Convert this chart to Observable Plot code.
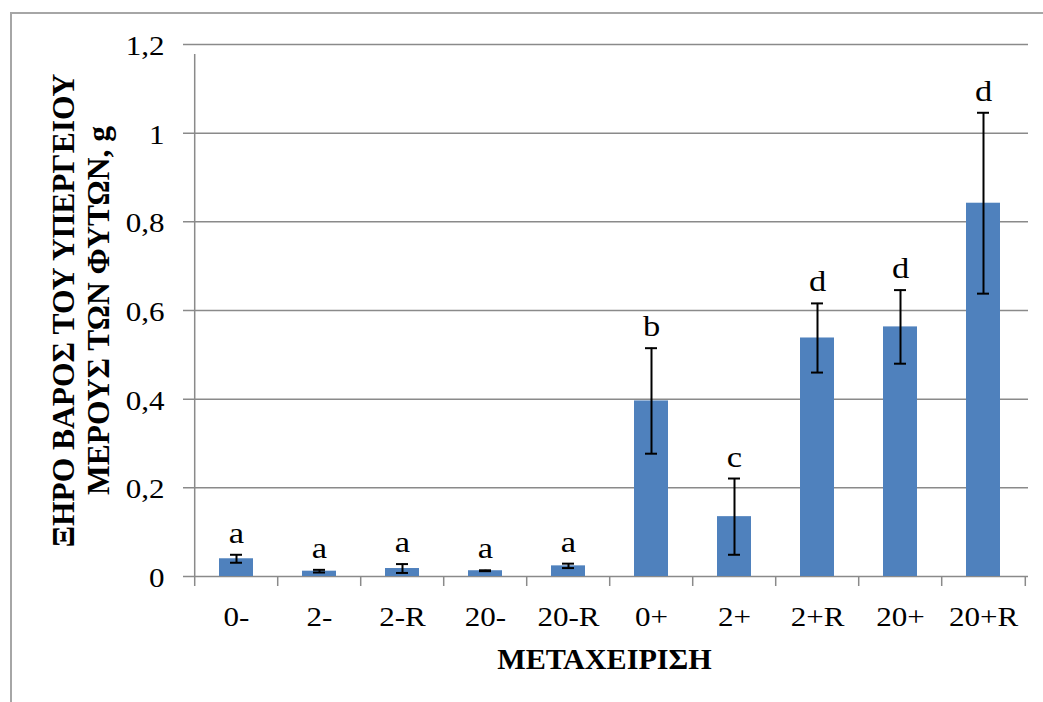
<!DOCTYPE html>
<html>
<head>
<meta charset="utf-8">
<script src="https://cdn.jsdelivr.net/npm/d3@7"></script>
<script src="https://cdn.jsdelivr.net/npm/@observablehq/plot@0.6"></script>
<style>
  html, body { margin: 0; padding: 0; background: #fff; overflow: hidden; }
  #chart svg { display: block; }
</style>
</head>
<body>
<div id="chart"></div>
<script>
// Treatments and the dry weight of the above-ground part of the plants (g), with error and group letter
const categories = ["0-", "2-", "2-R", "20-", "20-R", "0+", "2+", "2+R", "20+", "20+R"];
const means      = [0.040, 0.012, 0.018, 0.013, 0.024, 0.396, 0.135, 0.538, 0.563, 0.842];
const errors     = [0.009, 0.003, 0.010, 0.001, 0.005, 0.119, 0.086, 0.078, 0.083, 0.204];
const letters    = ["a", "a", "a", "a", "a", "b", "c", "d", "d", "d"];

const yTicks      = [0, 0.2, 0.4, 0.6, 0.8, 1.0, 1.2];
const yTickLabels = ["0", "0,2", "0,4", "0,6", "0,8", "1", "1,2"];

const xTitle  = "ΜΕΤΑΧΕΙΡΙΣΗ";
const yTitle1 = "ΞΗΡΟ ΒΑΡΟΣ ΤΟΥ ΥΠΕΡΓΕΙΟΥ";
const yTitle2 = "ΜΕΡΟΥΣ ΤΩΝ ΦΥΤΩΝ, g";

const data = categories.map((c, i) => ({cat: c, mean: means[i], err: errors[i], letter: letters[i]}));

const W = 1043, H = 702;
const mL = 192, mR = 15, mT = 44, mB = 126;
const step = (W - mL - mR) / categories.length;   // width of one category slot
const grid = "#8a8a8a";
const serif = "'Liberation Serif', 'Times New Roman', serif";
const wide = 1.15;   // horizontal stretch of the horizontal labels

const chart = Plot.plot({
  width: W, height: H,
  marginLeft: mL, marginRight: mR, marginTop: mT, marginBottom: mB,
  style: {fontFamily: serif, color: "black", background: "white"},
  x: {domain: categories, paddingInner: 0.59, paddingOuter: 0.295, axis: null},
  y: {domain: [0, 1.2], axis: null},
  marks: [
    // horizontal gridlines with their short outer tick
    Plot.ruleY(yTicks, {stroke: grid, strokeWidth: 1.5, insetLeft: -9}),
    // category separator ticks below the baseline
    Plot.ruleX(categories, {x: d => d, y1: 0, y2: 0, insetBottom: -10, dx: -step / 2, stroke: grid, strokeWidth: 1.5}),
    Plot.ruleX(categories.slice(-1), {x: d => d, y1: 0, y2: 0, insetBottom: -10, dx: step / 2, stroke: grid, strokeWidth: 1.5}),
    // vertical value axis line
    Plot.ruleX(categories.slice(0, 1), {x: d => d, y1: 0, y2: 1.2, insetBottom: -10, dx: -step / 2, stroke: grid, strokeWidth: 1.5}),
    // value tick labels
    Plot.text(yTicks, {y: d => d, text: d => yTickLabels[yTicks.indexOf(d)], frameAnchor: "left",
                       textAnchor: "end", dx: -28, dy: 2, fontSize: 27, fill: "black", fontFamily: serif}),
    // category tick labels
    Plot.text(categories, {x: d => d, text: d => d, frameAnchor: "bottom", lineAnchor: "bottom",
                           dy: 49, fontSize: 27, fill: "black", fontFamily: serif}),
    // bars
    Plot.barY(data, {x: "cat", y: "mean", fill: "#4f81bd"}),
    // error bars
    Plot.ruleX(data, {x: "cat", y1: d => d.mean - d.err, y2: d => d.mean + d.err, stroke: "black", strokeWidth: 2}),
    Plot.tickY(data, {x: "cat", y: d => d.mean + d.err, stroke: "black", strokeWidth: 2, insetLeft: 11, insetRight: 11}),
    Plot.tickY(data, {x: "cat", y: d => d.mean - d.err, stroke: "black", strokeWidth: 2, insetLeft: 11, insetRight: 11}),
    // significance letters
    Plot.text(data, {x: "cat", y: d => d.mean + d.err, text: "letter", dy: -12, lineAnchor: "bottom",
                     fontSize: 30, fill: "black", fontFamily: serif}),
    // axis titles
    Plot.text([xTitle], {text: d => d, frameAnchor: "bottom", dx: -6, dy: 92, lineAnchor: "bottom", textAnchor: "middle",
                         fontSize: 29, fontWeight: "bold", fill: "black", fontFamily: serif}),
    Plot.text([yTitle1], {text: d => d, frameAnchor: "left", rotate: -90, dx: -119, lineAnchor: "bottom",
                          textAnchor: "middle", fontSize: 31.5, fontWeight: "bold", fill: "black", fontFamily: serif}),
    Plot.text([yTitle2], {text: d => d, frameAnchor: "left", rotate: -90, dx: -84, lineAnchor: "bottom",
                          textAnchor: "middle", fontSize: 31.5, fontWeight: "bold", fill: "black", fontFamily: serif})
  ]
});

// widen the horizontal labels about their anchor point (the bold title a little less)
d3.select(chart).selectAll("text").each(function () {
  const t = this.getAttribute("transform") || "";
  if (t.includes("rotate")) return;
  const s = this.textContent === xTitle ? 1.04 : wide;
  this.setAttribute("transform", `${t} scale(${s},1)`);
});

// thin outer chart-area border (left and top edges)
d3.select(chart).insert("path", ":first-child")
  .attr("d", `M11,${H}V13H${W}`)
  .attr("fill", "none")
  .attr("stroke", "#a6a6a6")
  .attr("stroke-width", 2);

document.getElementById("chart").appendChild(chart);
</script>
</body>
</html>
